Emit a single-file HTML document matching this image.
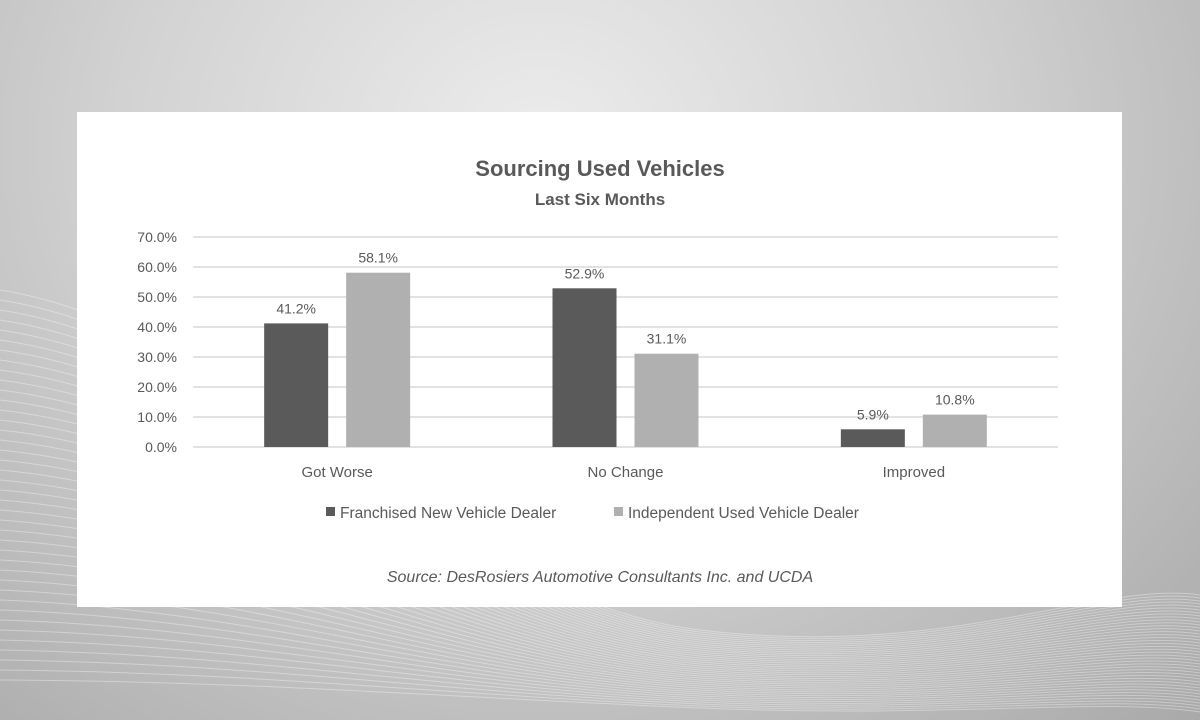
<!DOCTYPE html>
<html><head><meta charset="utf-8"><style>
html,body{margin:0;padding:0;width:1200px;height:720px;overflow:hidden}
body{position:relative;font-family:"Liberation Sans",sans-serif;
background:radial-gradient(ellipse at 45% 20%,#ececec 0%,#d2d2d2 45%,#a9a9a9 100%);}
svg{display:block}
#card{position:absolute;left:77px;top:112px;width:1045px;height:495px;background:#fff;}
svg text{font-family:"Liberation Sans",sans-serif;fill:#595959}
</style></head><body>
<svg width="1200" height="720" style="position:absolute;left:0;top:0;overflow:hidden">
<g fill="none" stroke="#ffffff" stroke-opacity="0.35" stroke-width="1" id="waves"></g>
</svg>
<div id="card"></div>
<svg id="chart" width="1200" height="720" style="position:absolute;left:0;top:0"></svg>
<script>
const categories=["Got Worse","No Change","Improved"];
const franchised=[41.2,52.9,5.9];
const independent=[58.1,31.1,10.8];
const ticks=[0,10,20,30,40,50,60,70];
const seriesNames=["Franchised New Vehicle Dealer","Independent Used Vehicle Dealer"];
const colors=["#5a5a5a","#b0b0b0"];

const NS="http://www.w3.org/2000/svg";
const svg=document.getElementById('chart');
function mk(tag,attrs,parent){const e=document.createElementNS(NS,tag);for(const k in attrs)e.setAttribute(k,attrs[k]);(parent||svg).appendChild(e);return e;}
const wg=document.getElementById('waves');
for(let i=0;i<40;i++){mk('path',{d:`M0 ${290+i*10} C 250 ${330+i*9}, 450 ${600+i*2.5}, 700 ${630+i*2} S 1100 ${580+i*3}, 1200 ${595+i*3}`},wg);}
const x0=193,x1=1058,y0=447,pxPer=3;
const y=v=>y0-v*pxPer;
const band=(x1-x0)/categories.length;
const cx=i=>x0+band*(i+0.5);
ticks.forEach(t=>{
 const l=mk('line',{x1:x0,x2:x1,y1:y(t),y2:y(t),stroke:'#d9d9d9','stroke-width':1.5});
 
 
 const tx=mk('text',{x:177,y:y(t)+5,'text-anchor':'end','font-size':14});
 tx.textContent=t.toFixed(1)+'%';
 
 
});
const bw=64,gap=18;
[franchised,independent].forEach((s,si)=>{
 s.forEach((v,i)=>{
  const bx=cx(i)+(si===0?-gap/2-bw:gap/2);
  const r=mk('rect',{x:bx,y:y(v),width:bw,height:v*pxPer,fill:colors[si]});
  
  
  const t=mk('text',{x:bx+bw/2,y:y(v)-10,'text-anchor':'middle','font-size':14});
  t.textContent=v.toFixed(1)+'%';
  
  
 });
});
categories.forEach((c,i)=>{
 const t=mk('text',{x:cx(i),y:477,'text-anchor':'middle','font-size':15});
 t.textContent=c;
 
 
});
const title=mk('text',{x:600,y:176,'text-anchor':'middle','font-size':22,'font-weight':'bold'});
title.textContent='Sourcing Used Vehicles';


const sub=mk('text',{x:600,y:205,'text-anchor':'middle','font-size':17,'font-weight':'bold'});
sub.textContent='Last Six Months';


const legX=[326,614];
seriesNames.forEach((n,i)=>{
 const r=mk('rect',{x:legX[i],y:507,width:9,height:9,fill:colors[i]});
 
 
 const t=mk('text',{x:legX[i]+14,y:518,'font-size':15.5});
 t.textContent=n;
 
 
});
const src=mk('text',{x:600,y:582,'text-anchor':'middle','font-size':16,'font-style':'italic'});
src.textContent='Source: DesRosiers Automotive Consultants Inc. and UCDA';


</script>
</body></html>
